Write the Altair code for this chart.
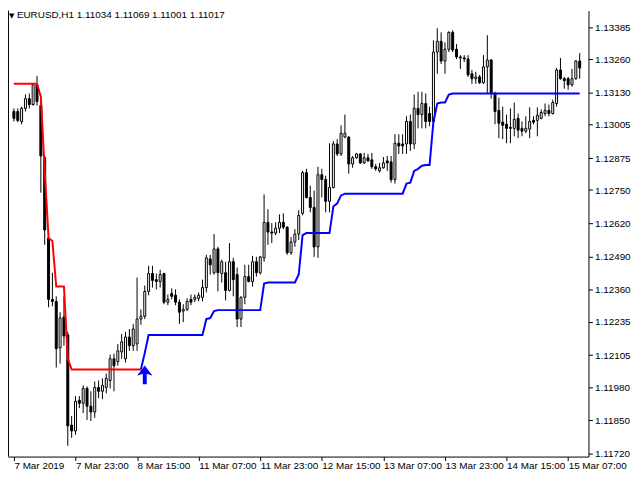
import altair as alt
import pandas as pd

# ---------------- data (EURUSD H1 candles) ----------------
opens = [1.13057, 1.13057, 1.13018, 1.13069, 1.13107, 1.13084, 1.13161, 1.13080, 1.12876, 1.12563,
         1.12323, 1.12315, 1.12134, 1.12254, 1.12184, 1.11832, 1.11809, 1.11929, 1.11917, 1.11975,
         1.11906, 1.11883, 1.11979, 1.11964, 1.11979, 1.12006, 1.12091, 1.12080, 1.12118, 1.12091,
         1.12176, 1.12142, 1.12149, 1.12246, 1.12257, 1.12354, 1.12424, 1.12400, 1.12393, 1.12424,
         1.12312, 1.12346, 1.12339, 1.12312, 1.12277, 1.12284, 1.12323, 1.12323, 1.12327, 1.12331,
         1.12369, 1.12481, 1.12427, 1.12520, 1.12424, 1.12427, 1.12358, 1.12470, 1.12420, 1.12246,
         1.12331, 1.12412, 1.12393, 1.12470, 1.12427, 1.12485, 1.12624, 1.12586, 1.12582, 1.12601,
         1.12624, 1.12605, 1.12505, 1.12547, 1.12578, 1.12659, 1.12818, 1.12721, 1.12682, 1.12528,
         1.12810, 1.12791, 1.12706, 1.12760, 1.12930, 1.12891, 1.12957, 1.12957, 1.12852, 1.12876,
         1.12891, 1.12856, 1.12876, 1.12868, 1.12841, 1.12825, 1.12837, 1.12864, 1.12860, 1.12791,
         1.12933, 1.12930, 1.12930, 1.13018, 1.12930, 1.13069, 1.13045, 1.13088, 1.13049, 1.13018,
         1.13289, 1.13331, 1.13254, 1.13300, 1.13366, 1.13300, 1.13270, 1.13266, 1.13262, 1.13204,
         1.13185, 1.13192, 1.13169, 1.13231, 1.13258, 1.13127, 1.13061, 1.13015, 1.13007, 1.12995,
         1.12991, 1.13030, 1.12991, 1.12980, 1.12988, 1.13022, 1.13022, 1.13030, 1.13049, 1.13061,
         1.13049, 1.13088, 1.13219, 1.13185, 1.13185, 1.13161, 1.13185, 1.13254]

highs = [1.13069, 1.13069, 1.13076, 1.13123, 1.13127, 1.13165, 1.13196, 1.13096, 1.12883, 1.12601,
         1.12427, 1.12335, 1.12273, 1.12335, 1.12196, 1.11867, 1.11945, 1.11945, 1.11987, 1.11983,
         1.11964, 1.12002, 1.12006, 1.12014, 1.12033, 1.12107, 1.12111, 1.12149, 1.12188, 1.12196,
         1.12207, 1.12227, 1.12408, 1.12284, 1.12377, 1.12454, 1.12454, 1.12424, 1.12439, 1.12427,
         1.12342, 1.12366, 1.12362, 1.12323, 1.12304, 1.12327, 1.12342, 1.12342, 1.12350, 1.12400,
         1.12497, 1.12497, 1.12578, 1.12528, 1.12478, 1.12470, 1.12543, 1.12485, 1.12447, 1.12335,
         1.12458, 1.12458, 1.12493, 1.12489, 1.12493, 1.12733, 1.12675, 1.12621, 1.12624, 1.12655,
         1.12659, 1.12609, 1.12566, 1.12597, 1.12671, 1.12825, 1.12833, 1.12767, 1.12748, 1.12841,
         1.12833, 1.12806, 1.12933, 1.12941, 1.12949, 1.13003, 1.13045, 1.12960, 1.12883, 1.12895,
         1.12895, 1.12895, 1.12891, 1.12895, 1.12852, 1.12856, 1.12879, 1.12883, 1.12883, 1.12968,
         1.12968, 1.12968, 1.13038, 1.13045, 1.13123, 1.13134, 1.13134, 1.13127, 1.13076, 1.13335,
         1.13382, 1.13366, 1.13327, 1.13370, 1.13374, 1.13320, 1.13277, 1.13277, 1.13277, 1.13219,
         1.13212, 1.13200, 1.13277, 1.13355, 1.13262, 1.13134, 1.13111, 1.13076, 1.13045, 1.13069,
         1.13092, 1.13049, 1.13018, 1.13038, 1.13073, 1.13038, 1.13073, 1.13065, 1.13088, 1.13084,
         1.13103, 1.13227, 1.13266, 1.13192, 1.13192, 1.13223, 1.13258, 1.13285]

lows = [1.13018, 1.13015, 1.13007, 1.13057, 1.13069, 1.13080, 1.13080, 1.12740, 1.12536, 1.12292,
        1.12296, 1.12057, 1.12072, 1.12142, 1.11751, 1.11782, 1.11794, 1.11898, 1.11879, 1.11852,
        1.11848, 1.11860, 1.11937, 1.11933, 1.11956, 1.11975, 1.11964, 1.12064, 1.12091, 1.12076,
        1.12122, 1.12122, 1.12122, 1.12223, 1.12246, 1.12339, 1.12369, 1.12362, 1.12369, 1.12304,
        1.12300, 1.12323, 1.12300, 1.12227, 1.12234, 1.12277, 1.12300, 1.12312, 1.12315, 1.12315,
        1.12350, 1.12420, 1.12420, 1.12354, 1.12389, 1.12319, 1.12354, 1.12335, 1.12215, 1.12215,
        1.12304, 1.12389, 1.12373, 1.12412, 1.12420, 1.12470, 1.12536, 1.12543, 1.12574, 1.12582,
        1.12597, 1.12497, 1.12497, 1.12528, 1.12555, 1.12651, 1.12717, 1.12663, 1.12489, 1.12485,
        1.12721, 1.12663, 1.12663, 1.12756, 1.12883, 1.12883, 1.12953, 1.12814, 1.12837, 1.12872,
        1.12852, 1.12852, 1.12860, 1.12833, 1.12825, 1.12818, 1.12833, 1.12825, 1.12779, 1.12775,
        1.12891, 1.12891, 1.12891, 1.12903, 1.12910, 1.12991, 1.12991, 1.12991, 1.12999, 1.13011,
        1.13204, 1.13242, 1.13204, 1.13289, 1.13289, 1.13262, 1.13223, 1.13250, 1.13192, 1.13165,
        1.13165, 1.13165, 1.13165, 1.13127, 1.13107, 1.13007, 1.12953, 1.12949, 1.12933, 1.12933,
        1.12960, 1.12953, 1.12960, 1.12972, 1.12953, 1.13007, 1.12960, 1.13026, 1.13038, 1.13038,
        1.13045, 1.13076, 1.13181, 1.13146, 1.13142, 1.13154, 1.13181, 1.13185]

closes = [1.13030, 1.13022, 1.13069, 1.13107, 1.13084, 1.13161, 1.13096, 1.12883, 1.12594, 1.12323,
          1.12315, 1.12130, 1.12250, 1.12180, 1.11829, 1.11809, 1.11925, 1.11917, 1.11975, 1.11906,
          1.11883, 1.11979, 1.11964, 1.11987, 1.12014, 1.12091, 1.12064, 1.12122, 1.12157, 1.12176,
          1.12142, 1.12207, 1.12246, 1.12257, 1.12354, 1.12424, 1.12397, 1.12393, 1.12420, 1.12312,
          1.12323, 1.12335, 1.12312, 1.12273, 1.12284, 1.12315, 1.12312, 1.12331, 1.12339, 1.12369,
          1.12485, 1.12458, 1.12520, 1.12427, 1.12470, 1.12358, 1.12470, 1.12400, 1.12246, 1.12331,
          1.12412, 1.12393, 1.12470, 1.12427, 1.12489, 1.12624, 1.12586, 1.12582, 1.12601, 1.12624,
          1.12605, 1.12505, 1.12547, 1.12578, 1.12651, 1.12818, 1.12721, 1.12682, 1.12528, 1.12810,
          1.12791, 1.12706, 1.12760, 1.12930, 1.12891, 1.12972, 1.12972, 1.12852, 1.12876, 1.12891,
          1.12856, 1.12876, 1.12864, 1.12841, 1.12833, 1.12837, 1.12856, 1.12856, 1.12791, 1.12933,
          1.12922, 1.12922, 1.13018, 1.12930, 1.13069, 1.13045, 1.13088, 1.13018, 1.13018, 1.13289,
          1.13331, 1.13254, 1.13300, 1.13366, 1.13297, 1.13270, 1.13266, 1.13262, 1.13200, 1.13185,
          1.13192, 1.13169, 1.13231, 1.13258, 1.13127, 1.13057, 1.13011, 1.13003, 1.12991, 1.12991,
          1.13026, 1.12984, 1.12980, 1.12991, 1.13018, 1.13015, 1.13042, 1.13053, 1.13061, 1.13049,
          1.13092, 1.13219, 1.13185, 1.13177, 1.13161, 1.13185, 1.13254, 1.13227]

# trailing stop line, one value per bar (red = bars 0..33, blue = bars 33..147)
stop_line = [1.13165, 1.13165, 1.13165, 1.13165, 1.13165, 1.13165, 1.13165, 1.13115, 1.12825, 1.12563,
             1.12551, 1.12373, 1.12373, 1.12373, 1.12091, 1.12049, 1.12049, 1.12049, 1.12049, 1.12049,
             1.12049, 1.12049, 1.12049, 1.12049, 1.12049, 1.12049, 1.12049, 1.12049, 1.12049, 1.12049,
             1.12049, 1.12049, 1.12049, 1.12049, 1.12114, 1.12184, 1.12184, 1.12184, 1.12184, 1.12184,
             1.12184, 1.12184, 1.12184, 1.12184, 1.12184, 1.12184, 1.12184, 1.12184, 1.12184, 1.12184,
             1.12246, 1.12250, 1.12277, 1.12281, 1.12281, 1.12281, 1.12281, 1.12281, 1.12281, 1.12281,
             1.12281, 1.12281, 1.12281, 1.12281, 1.12281, 1.12385, 1.12389, 1.12389, 1.12389, 1.12389,
             1.12389, 1.12389, 1.12389, 1.12389, 1.12420, 1.12574, 1.12582, 1.12582, 1.12582, 1.12582,
             1.12582, 1.12582, 1.12582, 1.12686, 1.12698, 1.12729, 1.12736, 1.12736, 1.12736, 1.12736,
             1.12736, 1.12736, 1.12736, 1.12736, 1.12736, 1.12736, 1.12736, 1.12736, 1.12736, 1.12736,
             1.12736, 1.12736, 1.12775, 1.12779, 1.12825, 1.12833, 1.12845, 1.12848, 1.12848, 1.13018,
             1.13088, 1.13092, 1.13092, 1.13123, 1.13127, 1.13127, 1.13127, 1.13127, 1.13127, 1.13127,
             1.13127, 1.13127, 1.13127, 1.13127, 1.13127, 1.13127, 1.13127, 1.13127, 1.13127, 1.13127,
             1.13127, 1.13127, 1.13127, 1.13127, 1.13127, 1.13127, 1.13127, 1.13127, 1.13127, 1.13127,
             1.13127, 1.13127, 1.13127, 1.13127, 1.13127, 1.13127, 1.13127, 1.13127]
switch_bar = 33

signal_bar = [34]
signal_price = [1.12028]

x_tick_bars = [0, 16, 32, 48, 64, 80, 96, 112, 128, 144]
x_tick_labels = ["7 Mar 2019", "7 Mar 23:00", "8 Mar 15:00", "11 Mar 07:00", "11 Mar 23:00",
                 "12 Mar 15:00", "13 Mar 07:00", "13 Mar 23:00", "14 Mar 15:00", "15 Mar 07:00"]
y_ticks = [1.11720, 1.11850, 1.11980, 1.12105, 1.12235, 1.12360, 1.12490,
           1.12620, 1.12750, 1.12875, 1.13005, 1.13130, 1.13260, 1.13385]
header_text = "EURUSD,H1  1.11034 1.11069 1.11001 1.11017"

# ---------------- build tables ----------------
n = len(opens)
bars = list(range(n))
candles = pd.DataFrame({"bar": bars, "open": opens, "high": highs, "low": lows, "close": closes})
candles["dir"] = ["up" if c >= o else "down" for o, c in zip(opens, closes)]
red_df = pd.DataFrame({"bar": bars[:switch_bar + 1], "stop": stop_line[:switch_bar + 1]})
blue_df = pd.DataFrame({"bar": bars[switch_bar:], "stop": stop_line[switch_bar:]})
sig_df = pd.DataFrame({"bar": signal_bar, "price": signal_price})

W, H = 587, 451
FONT = "Liberation Sans"

label_arr = "[" + ",".join("'" + s + "'" for s in x_tick_labels) + "]"
x_axis = alt.Axis(values=x_tick_bars, labelExpr=label_arr + "[round(datum.value/16)]",
                  labelAlign="left", labelFlush=False, labelOverlap=False, labelPadding=0,
                  tickSize=4, tickColor="black", domainColor="black", labelColor="black",
                  labelFont=FONT, labelFontSize=10, grid=False, title=None, orient="bottom")
y_axis = alt.Axis(values=y_ticks, format=".5f", orient="right", tickSize=4, labelPadding=2,
                  tickColor="black", domainColor="black", labelColor="black",
                  labelFont=FONT, labelFontSize=10, grid=False, title=None, labelOverlap=False)

xs = alt.Scale(domain=[-0.25, 148], nice=False, zero=False)
ys = alt.Scale(domain=[1.117089, 1.134511], nice=False, zero=False)

X = alt.X("bar:Q", scale=xs, axis=x_axis)

wicks = alt.Chart(candles).mark_rule(color="black", strokeWidth=1).encode(
    x=X, y=alt.Y("high:Q", scale=ys, axis=y_axis), y2="low:Q")

bodies = alt.Chart(candles).mark_bar(size=2, stroke="black", strokeWidth=1).encode(
    x=X, y=alt.Y("open:Q", scale=ys, axis=y_axis), y2="close:Q",
    fill=alt.Fill("dir:N", scale=alt.Scale(domain=["up", "down"], range=["white", "black"]), legend=None))

red_line = alt.Chart(red_df).mark_line(color="#FF0000", strokeWidth=2).encode(
    x=X, y=alt.Y("stop:Q", scale=ys, axis=y_axis))
blue_line = alt.Chart(blue_df).mark_line(color="#0000FF", strokeWidth=2).encode(
    x=X, y=alt.Y("stop:Q", scale=ys, axis=y_axis))

arrow_path = "M0,-1 L0.82,0.08 L0.21,-0.12 L0.21,1 L-0.21,1 L-0.21,-0.12 L-0.82,0.08 Z"
arrow = alt.Chart(sig_df).mark_point(shape=arrow_path, size=361, filled=True, color="#0000FF",
                                     opacity=1, strokeWidth=0).encode(
    x=X, y=alt.Y("price:Q", scale=ys, axis=y_axis))

one = pd.DataFrame({"t": [header_text]})
frame = alt.Chart(one).mark_rule(color="black", strokeWidth=1).encode(
    x=alt.value(0.5), y=alt.value(0), y2=alt.value(H))
tri = alt.Chart(one).mark_text(text="▼", fontSize=7, align="left", baseline="top", color="black",
                               font="DejaVu Sans").encode(x=alt.value(1), y=alt.value(2))
header = alt.Chart(one).mark_text(align="left", baseline="top", fontSize=10, font=FONT,
                                  color="black").encode(text="t:N", x=alt.value(9), y=alt.value(0))

chart = alt.layer(wicks, bodies, red_line, blue_line, arrow, frame, tri, header).properties(
    width=W, height=H,
    autosize=alt.AutoSizeParams(type="none"),
    padding={"left": 0, "top": 0, "right": 44, "bottom": 13},
    background="white",
).configure_view(stroke=None)

chart.save("out.html", embed_options={"renderer": "svg", "actions": False})
